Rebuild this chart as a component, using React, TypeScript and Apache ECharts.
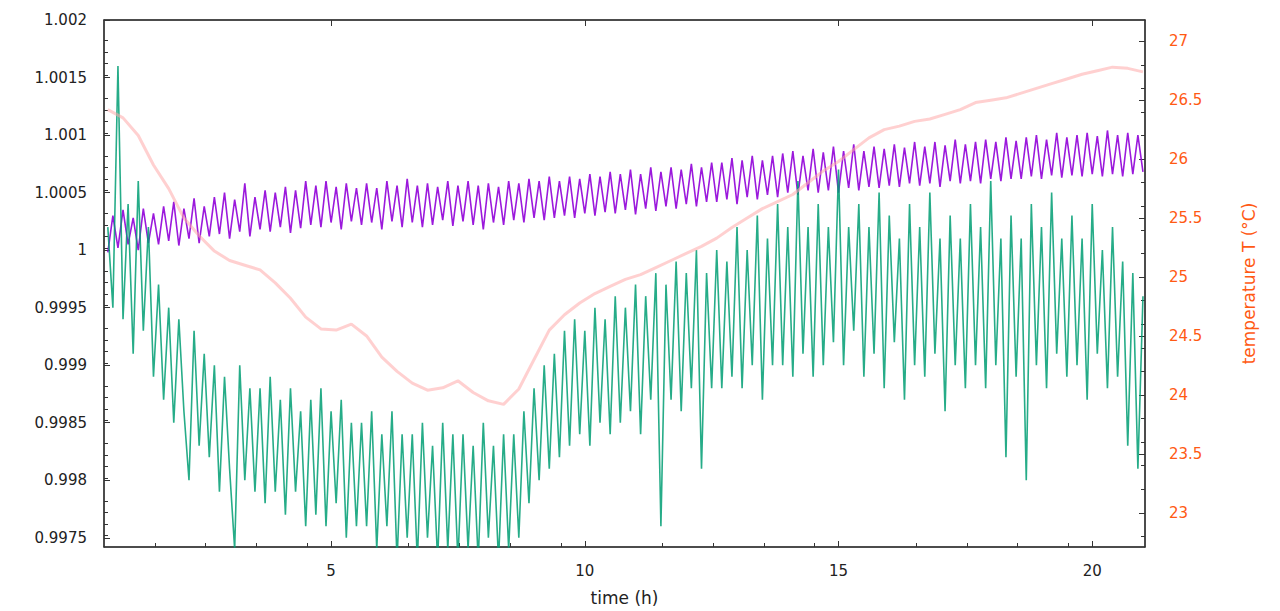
import React, { useEffect, useRef } from 'react';
import * as echarts from 'echarts';

const T0 = 0.6;
const STEP = 0.1;
const TEMP_STEP = 0.3;

const greenValues = [
  1.0002, 0.9995, 1.0016, 0.9994, 1.0004, 0.9991, 1.0006, 0.9993, 1.0002, 0.9989,
  0.9997, 0.9987, 0.9995, 0.9985, 0.9994, 0.9986, 0.998, 0.9993, 0.9983, 0.9991,
  0.9982, 0.999, 0.9979, 0.9989, 0.9981, 0.9974, 0.999, 0.998, 0.9988, 0.9979,
  0.9988, 0.9978, 0.9989, 0.9979, 0.9987, 0.9977, 0.9988, 0.9979, 0.9986, 0.9976,
  0.9987, 0.9977, 0.9988, 0.9976, 0.9986, 0.9978, 0.9987, 0.9975, 0.9985, 0.9976,
  0.9985, 0.9976, 0.9986, 0.9974, 0.9984, 0.9976, 0.9986, 0.9973, 0.9984, 0.9975,
  0.9984, 0.9973, 0.9985, 0.9975, 0.9983, 0.9973, 0.9985, 0.9974, 0.9984, 0.9973,
  0.9984, 0.9974, 0.9983, 0.9973, 0.9985, 0.9975, 0.9983, 0.9973, 0.9984, 0.9974,
  0.9984, 0.9975, 0.9986, 0.9978, 0.9988, 0.998, 0.999, 0.9981, 0.9991, 0.9982,
  0.9993, 0.9983, 0.9994, 0.9984, 0.9993, 0.9983, 0.9995, 0.9985, 0.9994, 0.9984,
  0.9996, 0.9985, 0.9995, 0.9986, 0.9997, 0.9984, 0.9996, 0.9987, 0.9998, 0.9976,
  0.9997, 0.9987, 0.9999, 0.9986, 0.9998, 0.9988, 1.0, 0.9981, 0.9998, 0.9988,
  1.0, 0.9988, 0.9999, 0.9989, 1.0002, 0.9988, 1.0, 0.999, 1.0003, 0.9987,
  1.0001, 0.999, 1.0004, 0.999, 1.0002, 0.9989, 1.0006, 0.9991, 1.0002, 0.9989,
  1.0004, 0.999, 1.0002, 0.9992, 1.0007, 0.999, 1.0002, 0.9993, 1.0004, 0.9989,
  1.0002, 0.9991, 1.0005, 0.9988, 1.0003, 0.9992, 1.0001, 0.9987, 1.0004, 0.999,
  1.0002, 0.9989, 1.0005, 0.9991, 1.0001, 0.9986, 1.0003, 0.999, 1.0001, 0.9988,
  1.0004, 0.999, 1.0002, 0.9988, 1.0006, 0.999, 1.0001, 0.9982, 1.0003, 0.9989,
  1.0001, 0.998, 1.0004, 0.999, 1.0002, 0.9988, 1.0005, 0.9991, 1.0001, 0.9989,
  1.0003, 0.999, 1.0001, 0.9987, 1.0004, 0.9991, 1.0, 0.9988, 1.0002, 0.9989,
  0.9999, 0.9983, 0.9998, 0.9981, 0.9996,
];

const purpleValues = [
  0.99998, 1.0003, 1.00002, 1.00035, 1.00005, 1.00028, 1.0, 1.00036, 1.00006, 1.00032,
  1.00005, 1.00038, 1.00008, 1.00042, 1.00004, 1.00036, 1.0001, 1.00045, 1.00006, 1.00038,
  1.00012, 1.00046, 1.00014, 1.0005, 1.0001, 1.00044, 1.00016, 1.00058, 1.00012, 1.00046,
  1.00018, 1.00052, 1.00016, 1.0005, 1.0002, 1.00055, 1.00015, 1.00052, 1.00019, 1.0006,
  1.00022, 1.00056, 1.0002, 1.0006, 1.00024, 1.00055, 1.00018, 1.00058, 1.00025, 1.00054,
  1.00022, 1.00058, 1.00024, 1.00054, 1.00018, 1.0006, 1.00025, 1.00056, 1.0002, 1.00062,
  1.00024, 1.00056, 1.0002, 1.00058, 1.00022, 1.00055, 1.00026, 1.0006, 1.00021, 1.00056,
  1.00025, 1.0006, 1.00022, 1.00056, 1.00018, 1.00058, 1.00024, 1.00055, 1.00022, 1.0006,
  1.00026, 1.00058, 1.00024, 1.00062, 1.00028, 1.0006, 1.00026, 1.00064, 1.00028, 1.0006,
  1.0003, 1.00064, 1.00028, 1.00062, 1.00032, 1.00066, 1.0003, 1.00064, 1.00033, 1.00068,
  1.00032, 1.00066, 1.00035, 1.0007, 1.00031, 1.00066, 1.00036, 1.00072, 1.00034, 1.00068,
  1.00038, 1.00072, 1.00036, 1.0007, 1.0004, 1.00075, 1.00038, 1.00072, 1.00042, 1.00076,
  1.00042, 1.00076, 1.00044, 1.0008, 1.0004, 1.00078, 1.00046, 1.00082, 1.00044, 1.00078,
  1.00048, 1.00082, 1.00046, 1.00084, 1.0005, 1.00086, 1.00048, 1.00082, 1.00052, 1.00088,
  1.0005, 1.00085, 1.00052, 1.0009, 1.0005, 1.00086, 1.00054, 1.00092, 1.00052, 1.00086,
  1.00055, 1.0009, 1.00054, 1.00088, 1.00056, 1.00092, 1.00055, 1.00089, 1.00058, 1.00094,
  1.00056, 1.0009, 1.00058, 1.00094, 1.00055, 1.00091, 1.0006, 1.00096, 1.00058, 1.00092,
  1.0006, 1.00094, 1.00058, 1.00096, 1.00062, 1.00094, 1.0006, 1.00098, 1.00062, 1.00095,
  1.00062, 1.00098, 1.00064, 1.001, 1.00062, 1.00096, 1.00065, 1.00102, 1.00063, 1.00098,
  1.00065, 1.001, 1.00064, 1.00102, 1.00066, 1.00099, 1.00064, 1.00104, 1.00066, 1.001,
  1.00064, 1.00102, 1.00066, 1.001, 1.00068,
];

const temperatureValues = [
  26.42, 26.35, 26.2, 25.95, 25.75, 25.5, 25.35, 25.22, 25.14, 25.1,
  25.06, 24.95, 24.82, 24.66, 24.56, 24.55, 24.6, 24.5, 24.32, 24.2,
  24.1, 24.04, 24.06, 24.12, 24.02, 23.95, 23.92, 24.05, 24.3, 24.55,
  24.68, 24.78, 24.86, 24.92, 24.98, 25.02, 25.08, 25.14, 25.2, 25.26,
  25.33, 25.42, 25.5, 25.58, 25.64, 25.7, 25.8, 25.9, 25.98, 26.08,
  26.18, 26.25, 26.28, 26.32, 26.34, 26.38, 26.42, 26.48, 26.5, 26.52,
  26.56, 26.6, 26.64, 26.68, 26.72, 26.75, 26.78, 26.77, 26.74,
];

const FONT = '"DejaVu Sans", Verdana, sans-serif';
const ORANGE = '#ff5a14';

export default function App() {
  const chartRef = useRef<HTMLDivElement>(null);

  useEffect(() => {
    if (!chartRef.current) return;
    const chart = echarts.init(chartRef.current, undefined, { renderer: 'svg' });

    const pairs = (vals: number[], step: number) =>
      vals.map((v, i) => [+(T0 + i * step).toFixed(2), v]);

    const axisLine = { show: true, lineStyle: { color: '#333', width: 1.5 } };

    chart.setOption({
      animation: false,
      grid: { left: 104, right: 135, top: 20, bottom: 64, show: true, borderColor: '#333', borderWidth: 1 },
      xAxis: [
        {
          type: 'value',
          min: 0.525,
          max: 21.04,
          interval: 5,
          name: 'time (h)',
          nameLocation: 'middle',
          nameGap: 42,
          nameTextStyle: { fontFamily: FONT, fontSize: 17, color: '#222' },
          axisLine,
          axisTick: { show: true, inside: true, length: 6, customValues: [5, 10, 15, 20] },
          minorTick: { show: true, splitNumber: 5, length: 4 },
          axisLabel: { fontFamily: FONT, fontSize: 15, color: '#222', margin: 16, customValues: [5, 10, 15, 20] },
          splitLine: { show: false },
        },
        {
          type: 'value',
          position: 'top',
          min: 0.525,
          max: 21.04,
          axisLine,
          axisTick: { show: true, inside: true, length: 6, customValues: [5, 10, 15, 20] },
          axisLabel: { show: false },
          splitLine: { show: false },
        },
      ],
      yAxis: [
        {
          type: 'value',
          min: 0.99742,
          max: 1.002,
          interval: 0.0005,
          axisLine,
          axisTick: { show: true, inside: true, length: 6, customValues: [0.9975, 0.998, 0.9985, 0.999, 0.9995, 1, 1.0005, 1.001, 1.0015, 1.002] },
          minorTick: { show: true, splitNumber: 5, length: 4 },
          axisLabel: {
            fontFamily: FONT, fontSize: 15, color: '#222', margin: 17,
            customValues: [0.9975, 0.998, 0.9985, 0.999, 0.9995, 1, 1.0005, 1.001, 1.0015, 1.002],
            formatter: (v: number) => String(+v.toFixed(4)),
          },
          splitLine: { show: false },
        },
        {
          type: 'value',
          min: 22.71,
          max: 27.18,
          position: 'right',
          name: 'temperature T (°C)',
          nameLocation: 'middle',
          nameGap: 95,
          nameRotate: 90,
          nameTextStyle: { fontFamily: FONT, fontSize: 17, color: ORANGE },
          axisLine,
          axisTick: { show: true, inside: true, length: 6, customValues: [23, 23.5, 24, 24.5, 25, 25.5, 26, 26.5, 27] },
          minorTick: { show: true, splitNumber: 5, length: 4 },
          axisLabel: {
            fontFamily: FONT, fontSize: 15, color: ORANGE, margin: 24,
            customValues: [23, 23.5, 24, 24.5, 25, 25.5, 26, 26.5, 27],
          },
          splitLine: { show: false },
        },
      ],
      series: [
        {
          type: 'line',
          data: pairs(purpleValues, STEP),
          showSymbol: false,
          lineStyle: { color: '#9000d8', width: 1.6, opacity: 0.9 },
          itemStyle: { color: '#9000d8' },
          z: 2,
        },
        {
          type: 'line',
          data: pairs(greenValues, STEP),
          showSymbol: false,
          lineStyle: { color: '#009e73', width: 1.6, opacity: 0.85 },
          itemStyle: { color: '#009e73' },
          z: 3,
        },
        {
          type: 'line',
          yAxisIndex: 1,
          data: pairs(temperatureValues, TEMP_STEP),
          showSymbol: false,
          lineStyle: { color: '#ffaaaa', width: 3, opacity: 0.55 },
          itemStyle: { color: '#ffaaaa' },
          z: 4,
        },
      ],
    });

    return () => chart.dispose();
  }, []);

  return <div ref={chartRef} style={{ width: 1280, height: 611, position: 'absolute', left: 0, top: 0 }} />;
}
